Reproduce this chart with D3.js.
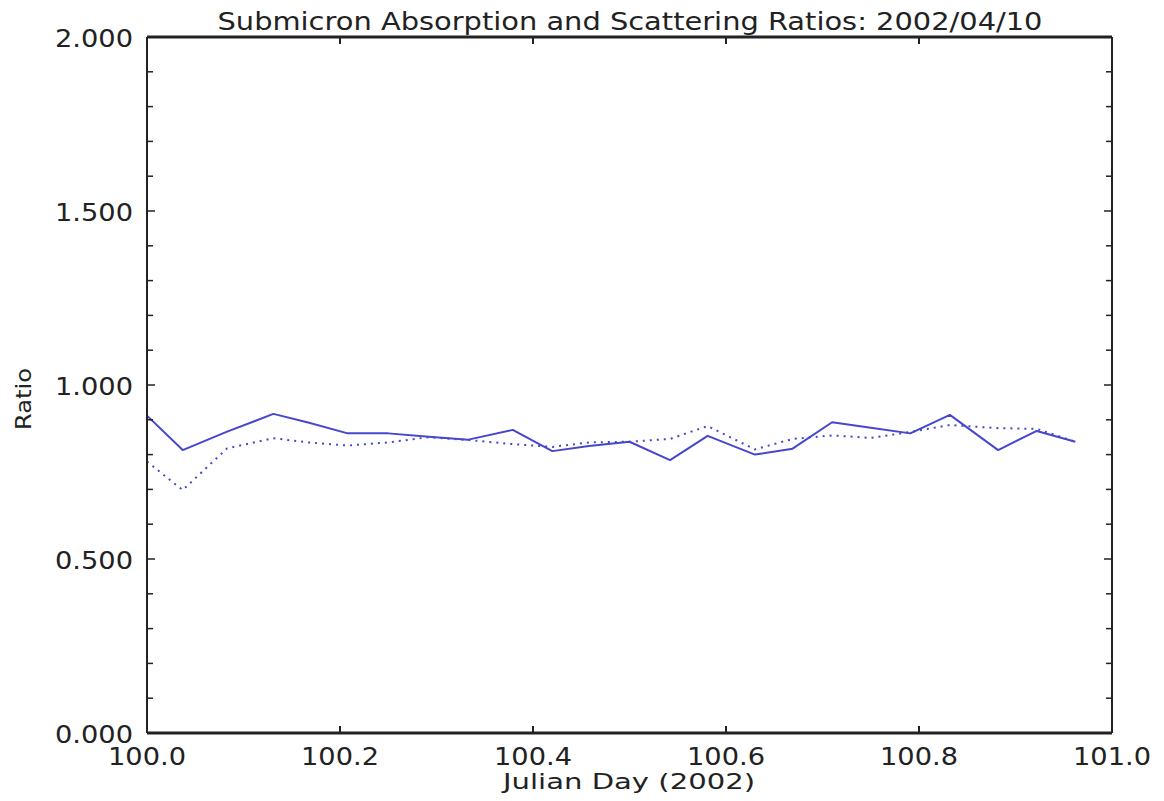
<!DOCTYPE html>
<html>
<head>
<meta charset="utf-8">
<script src="https://cdn.jsdelivr.net/npm/d3@7"></script>
<style>
  html, body { margin: 0; padding: 0; background: #ffffff; }
  svg { display: block; }
  text { font-family: "DejaVu Sans", Verdana, sans-serif; fill: #222; }
</style>
</head>
<body>
<svg id="chart" width="1164" height="801"></svg>
<script>
// Sample times (Julian day, hourly)
const julianDays = [
  100.000, 100.037, 100.083, 100.131, 100.167, 100.208, 100.250, 100.292,
  100.333, 100.379, 100.420, 100.458, 100.500, 100.542, 100.581, 100.630,
  100.669, 100.710, 100.750, 100.791, 100.832, 100.882, 100.922, 100.962
];
// Absorption ratio (solid line)
const absorptionRatio = [
  0.912, 0.813, 0.866, 0.917, 0.892, 0.861, 0.861, 0.851,
  0.843, 0.871, 0.810, 0.825, 0.837, 0.784, 0.854, 0.800,
  0.817, 0.893, 0.877, 0.861, 0.914, 0.813, 0.868, 0.837
];
// Scattering ratio (dotted line)
const scatteringRatio = [
  0.780, 0.698, 0.818, 0.847, 0.835, 0.826, 0.835, 0.850,
  0.842, 0.830, 0.822, 0.835, 0.837, 0.845, 0.882, 0.815,
  0.845, 0.855, 0.848, 0.865, 0.885, 0.876, 0.874, 0.837
];
const xTickValues = [100.0, 100.2, 100.4, 100.6, 100.8, 101.0];
const yTickValues = [0.0, 0.5, 1.0, 1.5, 2.0];
const yMinorTicks = d3.range(0, 2.0001, 0.1);

const svg = d3.select("#chart");
const plotLeft = 147, plotRight = 1112, plotTop = 37, plotBottom = 733;

const x = d3.scaleLinear().domain([100, 101]).range([plotLeft, plotRight]);
const y = d3.scaleLinear().domain([0, 2]).range([plotBottom, plotTop]);

const lineColor = "#4646cf";
const frameColor = "#222";

// Series lines
const line = (vals) => d3.line()
  .x((d, i) => x(julianDays[i]))
  .y(d => y(d))(vals);

svg.append("path")
  .attr("d", line(scatteringRatio))
  .attr("fill", "none")
  .attr("stroke", lineColor)
  .attr("stroke-width", 2)
  .attr("stroke-dasharray", "2,5");

svg.append("path")
  .attr("d", line(absorptionRatio))
  .attr("fill", "none")
  .attr("stroke", lineColor)
  .attr("stroke-width", 2)
  .attr("stroke-linejoin", "round");

// Frame with inward ticks on all four sides
const frame = svg.append("g");
frame.append("line").attr("x1", plotLeft).attr("x2", plotRight).attr("y1", plotTop).attr("y2", plotTop)
  .attr("stroke", frameColor).attr("stroke-width", 3);
frame.append("line").attr("x1", plotLeft).attr("x2", plotRight).attr("y1", plotBottom).attr("y2", plotBottom)
  .attr("stroke", frameColor).attr("stroke-width", 3);
frame.append("line").attr("x1", plotLeft).attr("x2", plotLeft).attr("y1", plotTop).attr("y2", plotBottom)
  .attr("stroke", frameColor).attr("stroke-width", 2);
frame.append("line").attr("x1", plotRight).attr("x2", plotRight).attr("y1", plotTop).attr("y2", plotBottom)
  .attr("stroke", frameColor).attr("stroke-width", 2);

// Y minor/major ticks (inside, both sides)
const isMajor = v => Math.abs(v * 2 - Math.round(v * 2)) < 1e-6;
yMinorTicks.forEach(v => {
  const len = isMajor(v) ? 8 : 6;
  frame.append("line").attr("x1", plotLeft).attr("x2", plotLeft + len)
    .attr("y1", y(v)).attr("y2", y(v)).attr("stroke", frameColor).attr("stroke-width", 1.5);
  frame.append("line").attr("x1", plotRight).attr("x2", plotRight - len)
    .attr("y1", y(v)).attr("y2", y(v)).attr("stroke", frameColor).attr("stroke-width", 1.5);
});
// X ticks (inside, top and bottom)
xTickValues.forEach(v => {
  frame.append("line").attr("x1", x(v)).attr("x2", x(v))
    .attr("y1", plotBottom).attr("y2", plotBottom - 7).attr("stroke", frameColor).attr("stroke-width", 2);
  frame.append("line").attr("x1", x(v)).attr("x2", x(v))
    .attr("y1", plotTop).attr("y2", plotTop + 7).attr("stroke", frameColor).attr("stroke-width", 2);
});

// Tick labels
svg.append("g").selectAll("text").data(yTickValues).join("text")
  .attr("x", plotLeft - 14)
  .attr("y", d => y(d) + 10)
  .attr("text-anchor", "end")
  .attr("font-size", 25)
  .attr("textLength", 78)
  .attr("lengthAdjust", "spacingAndGlyphs")
  .text(d => d3.format(".3f")(d));

svg.append("g").selectAll("text").data(xTickValues).join("text")
  .attr("x", d => x(d))
  .attr("y", 765)
  .attr("text-anchor", "middle")
  .attr("font-size", 24)
  .attr("textLength", 78)
  .attr("lengthAdjust", "spacingAndGlyphs")
  .text(d => d3.format(".1f")(d));

// Titles
svg.append("text")
  .attr("x", 630).attr("y", 30)
  .attr("text-anchor", "middle")
  .attr("font-size", 24)
  .attr("textLength", 825)
  .attr("lengthAdjust", "spacingAndGlyphs")
  .text("Submicron Absorption and Scattering Ratios: 2002/04/10");

svg.append("text")
  .attr("x", 629).attr("y", 789)
  .attr("text-anchor", "middle")
  .attr("font-size", 22)
  .attr("textLength", 252)
  .attr("lengthAdjust", "spacingAndGlyphs")
  .text("Julian Day (2002)");

svg.append("text")
  .attr("transform", "translate(31,399) rotate(-90)")
  .attr("text-anchor", "middle")
  .attr("font-size", 22)
  .attr("textLength", 62)
  .attr("lengthAdjust", "spacingAndGlyphs")
  .text("Ratio");
</script>
</body>
</html>
